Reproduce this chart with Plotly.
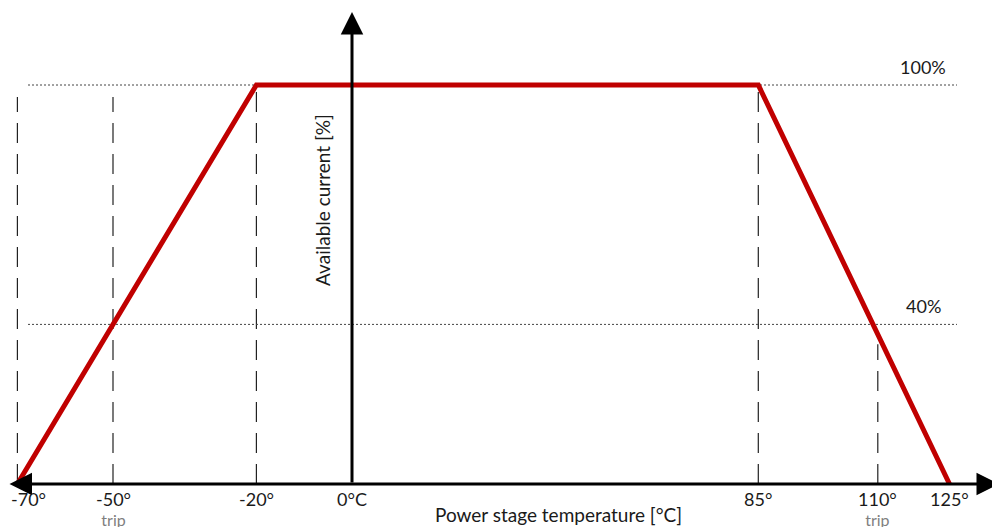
import plotly.graph_objects as go

# ---- data ----
temps = [-70, -20, 85, 125]          # derating curve breakpoints (°C)
current = [0, 100, 100, 0]           # available current (%)
tick_temps = [-70, -50, -20, 0, 85, 110, 125]
tick_labels = ["-70°", "-50°", "-20°", "0°C", "85°", "110°", "125°"]
trip_temps = [-50, 110]
guide_temps = [-70, -50, -20, 85, 110]
guide_tops = [97, 97, 100, 100, 35]
level_values = [100, 40]
level_labels = ["100%", "40%"]

FONT = "Lato"
RED = "#C00000"
TXT = "#1a1a1a"

# page layout: the figure is drawn 8px in from the page's top-left (body margin)
W, H = 1000, 527
OFF = 8
x0_px, x_scale = 352 - OFF, 4.78      # x_px(fig) = x0_px + x_scale*T
y0_px, y_scale = 484 - OFF, 3.99      # y_px(fig) = y0_px - y_scale*pct
x_range = [-x0_px / x_scale, (W - x0_px) / x_scale]
y_range = [-(H - y0_px) / y_scale, y0_px / y_scale]


def px2x(page_px):
    return (page_px - OFF - x0_px) / x_scale


def px2y(page_px):
    return (y0_px - (page_px - OFF)) / y_scale


def x2page(t):
    return x0_px + x_scale * t + OFF


fig = go.Figure()
fig.add_trace(go.Scatter(x=temps, y=current, mode="lines",
                         line=dict(color=RED, width=5), hoverinfo="skip",
                         showlegend=False))

shapes = []
for t, top in zip(guide_temps, guide_tops):
    shapes.append(dict(type="line", xref="x", yref="y", x0=t, x1=t, y0=0, y1=top,
                       line=dict(color="#222222", width=1.2, dash="20px,11px"),
                       layer="below"))
for v in level_values:
    shapes.append(dict(type="line", xref="x", yref="y", x0=px2x(28), x1=px2x(957),
                       y0=v, y1=v, line=dict(color="#444444", width=1, dash="2px,2px"),
                       layer="below"))

ann = []
# x axis (double arrow)
ann.append(dict(x=px2x(999), y=0, xref="x", yref="y",
                ax=px2x(8), ay=0, axref="x", ayref="y",
                text="", showarrow=True, arrowhead=2, startarrowhead=2,
                arrowside="end+start", arrowsize=1.5, startarrowsize=1.5,
                arrowwidth=3, arrowcolor="black", standoff=0, startstandoff=0))
# y axis
ann.append(dict(x=0, y=px2y(12), xref="x", yref="y",
                ax=0, ay=0, axref="x", ayref="y",
                text="", showarrow=True, arrowhead=2, arrowsize=1.5,
                arrowwidth=3, arrowcolor="black", standoff=0))
for t, lab in zip(tick_temps, tick_labels):
    # keep labels next to the left edge fully visible
    xs = max(0.0, 28 - x2page(t))
    text = f"<span style='font-size:18px'>{lab}</span>"
    if t in trip_temps:
        text += "<br><span style='font-size:16px;color:#7f7f7f'>trip</span>"
    ann.append(dict(x=t, y=0, xref="x", yref="y", text=text, showarrow=False,
                    yanchor="top", yshift=-2, xshift=xs,
                    font=dict(family=FONT, size=15, color=TXT)))
for v, lab in zip(level_values, level_labels):
    ann.append(dict(x=px2x(923), y=v, xref="x", yref="y", text=lab, showarrow=False,
                    yshift=18, font=dict(family=FONT, size=18, color=TXT)))
ann.append(dict(x=px2x(558), y=px2y(514), xref="x", yref="y",
                text="Power stage temperature [°C]", showarrow=False,
                font=dict(family=FONT, size=19, color=TXT)))
ann.append(dict(x=px2x(322), y=px2y(200), xref="x", yref="y",
                text="Available current [%]", textangle=-90, showarrow=False,
                font=dict(family=FONT, size=19, color=TXT)))

fig.update_layout(
    width=W, height=H, margin=dict(l=0, r=0, t=0, b=0),
    paper_bgcolor="white", plot_bgcolor="white",
    xaxis=dict(range=x_range, visible=False, fixedrange=True),
    yaxis=dict(range=y_range, visible=False, fixedrange=True),
    shapes=shapes, annotations=ann, showlegend=False,
)
fig.write_html("out.html")
